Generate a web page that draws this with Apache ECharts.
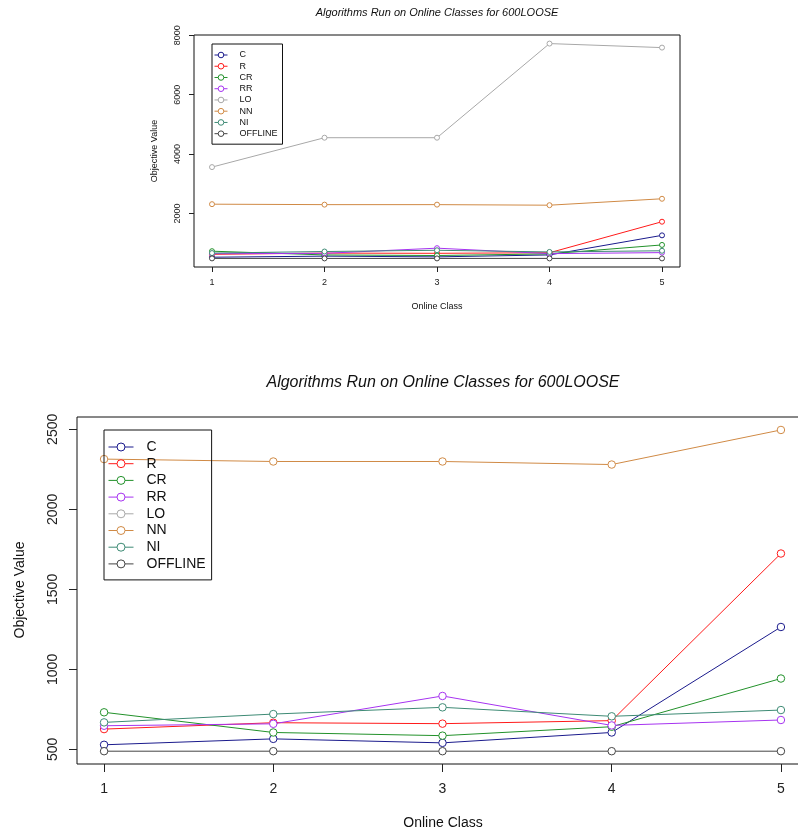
<!DOCTYPE html>
<html>
<head>
    <meta charset="utf-8" />
    <title>Algorithms Run on Online Classes for 600LOOSE</title>
    <script src="https://cdn.jsdelivr.net/npm/echarts@6/dist/echarts.min.js"></script>
    <style>
        html, body { margin: 0; padding: 0; background: #fff; }
    </style>
</head>
<body>
    <div id="main" style="width: 798px;height:834px;"></div>
    <script type="text/javascript">
        // values
        var classes = [1, 2, 3, 4, 5];
        var names = ['C', 'R', 'CR', 'RR', 'LO', 'NN', 'NI', 'OFFLINE'];
        var C = [529, 566, 541, 606, 1265];
        var R = [627, 667, 661, 680, 1724];
        var CR = [732, 606, 586, 642, 943];
        var RR = [648, 660, 834, 650, 684];
        var LO = [3562, 4551, 4551, 7719, 7584];
        var NN = [2314, 2299, 2299, 2280, 2496];
        var NI = [669, 721, 763, 707, 746];
        var OFFLINE = [489, 489, 489, 489, 489];
        var topTicks = [2000, 4000, 6000, 8000];
        var bottomTicks = [500, 1000, 1500, 2000, 2500];

        var values = [C, R, CR, RR, LO, NN, NI, OFFLINE];
        var colors = ['#1a1a8c', '#ff1a1a', '#22912a', '#a633f0', '#a8a8a8', '#d08a45', '#3d8a74', '#444444'];
        var font = '"Liberation Sans", Arial, sans-serif';
        var title = 'Algorithms Run on Online Classes for 600LOOSE';

        var myChart = echarts.init(document.getElementById('main'));

        function plain(v) { return String(v); }

        function xAxis(idx, size, margin, tick) {
            return {
                type: 'value', gridIndex: idx, min: 0.84, max: 5.16,
                axisLine: { show: false },
                splitLine: { show: false },
                axisTick: { customValues: classes, length: tick, lineStyle: { color: '#222' } },
                axisLabel: { customValues: classes, formatter: plain, fontSize: size, fontFamily: font, color: '#222', margin: margin }
            };
        }
        function yAxis(idx, min, max, ticks, size, margin, tick) {
            return {
                type: 'value', gridIndex: idx, min: min, max: max,
                axisLine: { show: false },
                splitLine: { show: false },
                axisTick: { customValues: ticks, length: tick, lineStyle: { color: '#222' } },
                axisLabel: { customValues: ticks, formatter: plain, rotate: 90, fontSize: size, fontFamily: font, color: '#222', margin: margin }
            };
        }
        function legend(left, top, w, h, gap, pad, size, textPad) {
            return {
                orient: 'vertical', left: left, top: top,
                itemWidth: w, itemHeight: h, itemGap: gap, padding: pad,
                borderColor: '#111', borderWidth: 1, borderRadius: 0,
                selectedMode: false,
                itemStyle: { borderWidth: 1 },
                lineStyle: { width: 1 },
                data: names,
                textStyle: { fontSize: size, fontFamily: font, color: '#111', padding: [0, 0, 0, textPad] }
            };
        }

        var series = [];
        [0, 1].forEach(function (g) {
            names.forEach(function (n, i) {
                series.push({
                    name: n, type: 'line',
                    xAxisIndex: g, yAxisIndex: g,
                    data: classes.map(function (c, k) { return [c, values[i][k]]; }),
                    symbol: 'circle',
                    symbolSize: g === 0 ? 5 : 7.5,
                    showAllSymbol: true,
                    color: colors[i],
                    lineStyle: { width: 1, color: colors[i] },
                    itemStyle: { color: '#fff', borderColor: colors[i], borderWidth: 1 },
                    clip: true,
                    animation: false
                });
            });
        });

        function text(x, y, str, size, italic, rot) {
            return {
                type: 'text', x: x, y: y, rotation: rot || 0,
                style: {
                    text: str, fill: '#111', align: 'center', verticalAlign: 'middle',
                    font: (italic ? 'italic ' : '') + size + 'px ' + font
                }
            };
        }

        var option = {
            animation: false,
            grid: [
                { left: 194, top: 35, right: 118, bottom: 567, outerBoundsMode: 'none', show: true, borderColor: '#111', borderWidth: 1 },
                { left: 77, top: 417, width: 731, bottom: 70, outerBoundsMode: 'none', show: true, borderColor: '#111', borderWidth: 1 }
            ],
            xAxis: [xAxis(0, 9, 11, 5), xAxis(1, 14, 18, 8)],
            yAxis: [yAxis(0, 200, 8008, topTicks, 9, 12, 5), yAxis(1, 409, 2577, bottomTicks, 14, 17, 8)],
            legend: [
                legend(212, 44, 13, 7, 2.24, [6.5, 5, 6, 2], 9, 7),
                legend(104, 430, 25, 10, 2.7, [10, 6, 9, 4], 14, 8)
            ],
            graphic: [
                text(437, 13, title, 11, true),
                text(443, 383, title, 16, true),
                text(437, 307, 'Online Class', 9),
                text(443, 823, 'Online Class', 14),
                text(155, 151, 'Objective Value', 9, false, Math.PI / 2),
                text(20, 590, 'Objective Value', 14, false, Math.PI / 2)
            ],
            series: series
        };

        myChart.setOption(option);
    </script>
</body>
</html>
